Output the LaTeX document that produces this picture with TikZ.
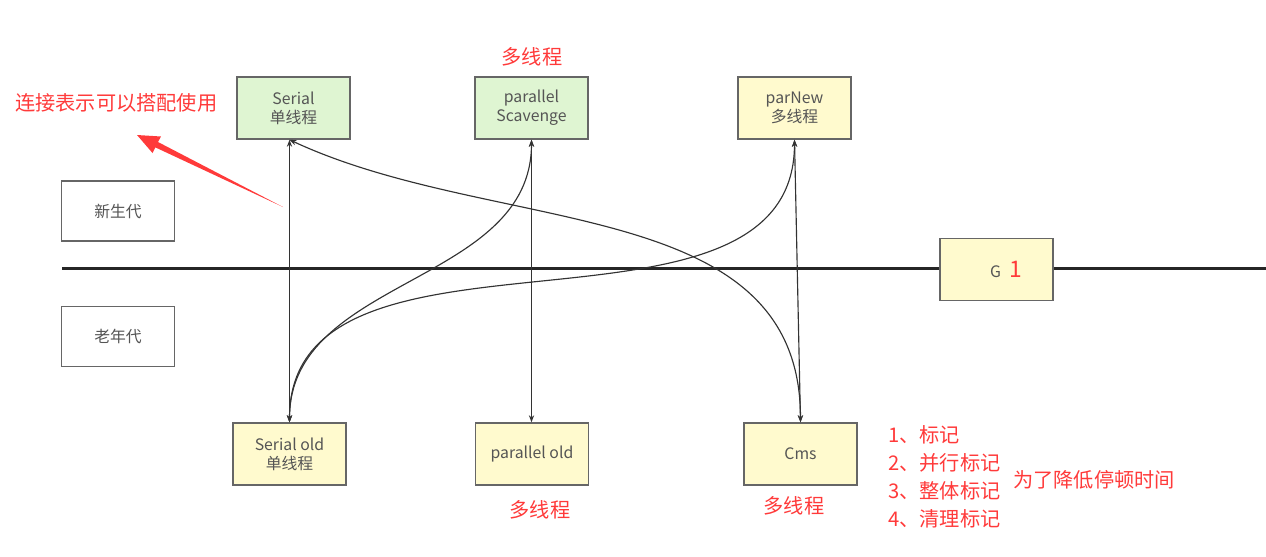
\documentclass[tikz,border=0pt]{standalone}
\usepackage{fontspec}
\setmainfont{Noto Sans CJK SC}
\usetikzlibrary{arrows.meta}
\definecolor{boxG}{RGB}{223,245,210}
\definecolor{boxY}{RGB}{255,250,206}
\definecolor{figR}{RGB}{255,58,58}
\definecolor{lineK}{RGB}{51,51,51}
\definecolor{txtK}{RGB}{85,85,85}

\begin{document}
\begin{tikzpicture}[x=0.02cm,y=-0.02cm,>={Stealth[length=4pt,width=3pt]},
  gc/.style={draw=black!60,line width=0.85pt,minimum width=2.26cm,minimum height=1.24cm,
    inner sep=0pt,font=\fontsize{9}{11}\selectfont,text=txtK,align=center},
  link/.style={<->,lineK,line width=0.65pt},
  note/.style={figR,font=\fontsize{11.5}{16}\selectfont,inner sep=0pt}]
\useasboundingbox (0,0) rectangle (1266,556);
% divider between young and old generation
\draw[line width=1.7pt,black!85] (62,268) -- (1266,268);
\node[gc,fill=white,minimum height=1.2cm] (young) at (118,211) {新生代};
\node[gc,fill=white,minimum height=1.2cm] (old) at (118,336.5) {老年代};
% young generation collectors
\node[gc,fill=boxG] (ser) at (293.5,108) {Serial\\单线程};
\node[gc,fill=boxG] (ps) at (531.5,108) {parallel\\Scavenge};
\node[gc,fill=boxY] (pn) at (794.5,108) {parNew\\多线程};
% old generation collectors
\node[gc,fill=boxY] (so) at (289.5,454) {Serial old\\单线程};
\node[gc,fill=boxY] (po) at (532,454) {parallel old};
\node[gc,fill=boxY] (cms) at (800.5,454) {Cms};
\node[gc,fill=boxY] (g1) at (996.5,269.5) {\hspace*{11pt}G\hspace{5pt}\textcolor{figR}{\fontsize{13}{13}\selectfont 1}};
% combinations
\draw[link] (ser.south -| so.north) -- (so.north);
\draw[link] (ser.south -| so.north) to[out=-25,in=90] (cms.north);
\draw[link] (ps.south) -- (ps.south |- po.north);
\draw[link] (ps.south) to[out=-90,in=90] (so.north);
\draw[link] (pn.south) to[out=-90,in=90] (so.north);
\draw[link] (pn.south) -- (cms.north);
% notes
\node[note,anchor=west] (hint) at (15,103) {连接表示可以搭配使用};
\coordinate (hintTail) at (283,207);
\coordinate (hintTip) at (137,135);
\fill[figR] (hintTail) -- (158,142) -- (161,136.5) -- (hintTip) -- (152.5,153) -- (155.4,147.4) -- cycle;
\node[note] (psNote) at (532,57) {多线程};
\node[note] (poNote) at (540,510) {多线程};
\node[note] (cmsNote) at (794,506) {多线程};
\node[note,anchor=west,align=left] (steps) at (888,477) {1、标记\\2、并行标记\\3、整体标记\\4、清理标记};
\node[note,anchor=west] (goal) at (1013,480) {为了降低停顿时间};
\end{tikzpicture}
\end{document}
